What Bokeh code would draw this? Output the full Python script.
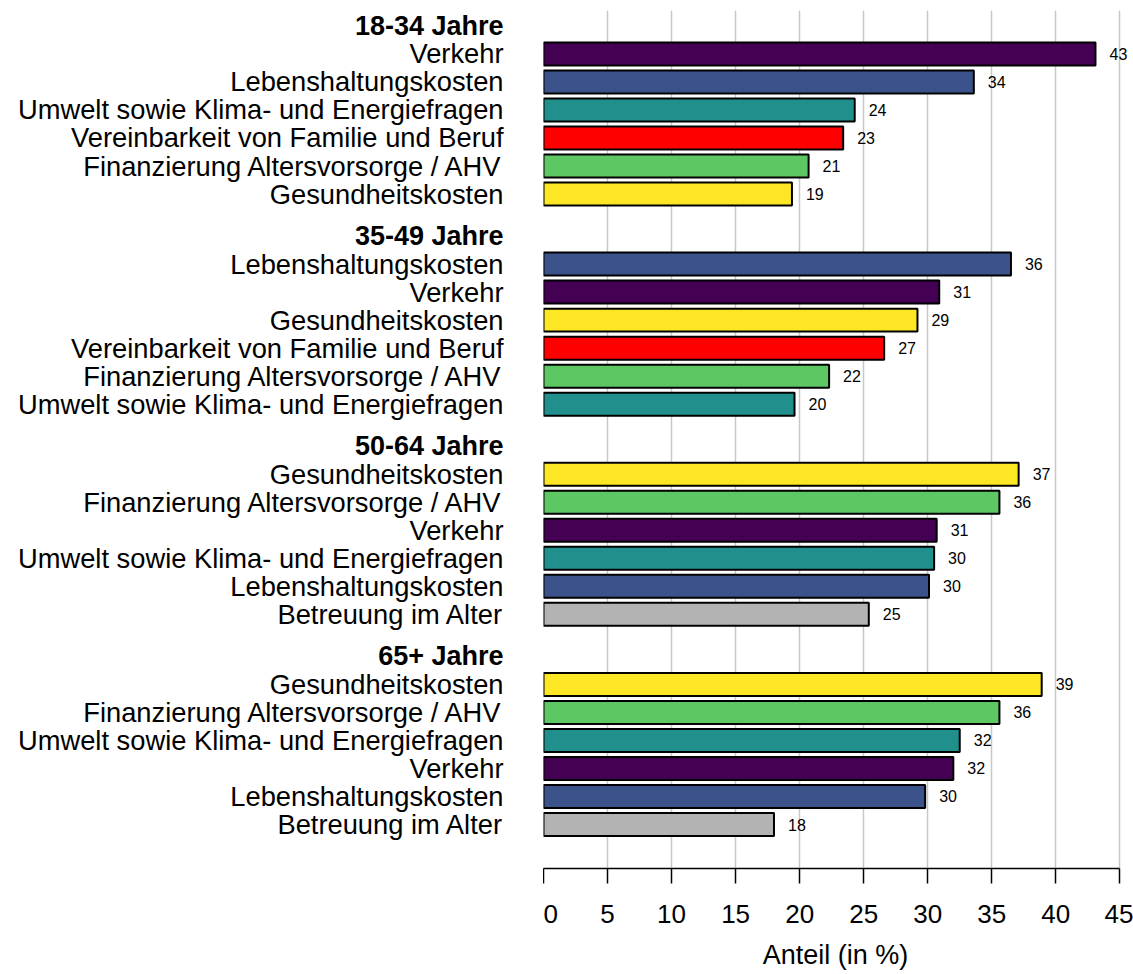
from bokeh.plotting import figure
from bokeh.layouts import row
from bokeh.models import ColumnDataSource, Range1d, FixedTicker
from bokeh.core.properties import value
from bokeh.embed import file_html
from bokeh.resources import INLINE

# ---------------- data ----------------
groups = ["18-34 Jahre", "35-49 Jahre", "50-64 Jahre", "65+ Jahre"]

cats_18_34 = ["Verkehr", "Lebenshaltungskosten", "Umwelt sowie Klima- und Energiefragen",
              "Vereinbarkeit von Familie und Beruf", "Finanzierung Altersvorsorge / AHV",
              "Gesundheitskosten"]
vals_18_34 = [43.1, 33.6, 24.3, 23.4, 20.7, 19.4]
labs_18_34 = ["43", "34", "24", "23", "21", "19"]

cats_35_49 = ["Lebenshaltungskosten", "Verkehr", "Gesundheitskosten",
              "Vereinbarkeit von Familie und Beruf", "Finanzierung Altersvorsorge / AHV",
              "Umwelt sowie Klima- und Energiefragen"]
vals_35_49 = [36.5, 30.9, 29.2, 26.6, 22.3, 19.6]
labs_35_49 = ["36", "31", "29", "27", "22", "20"]

cats_50_64 = ["Gesundheitskosten", "Finanzierung Altersvorsorge / AHV", "Verkehr",
              "Umwelt sowie Klima- und Energiefragen", "Lebenshaltungskosten",
              "Betreuung im Alter"]
vals_50_64 = [37.1, 35.6, 30.7, 30.5, 30.1, 25.4]
labs_50_64 = ["37", "36", "31", "30", "30", "25"]

cats_65 = ["Gesundheitskosten", "Finanzierung Altersvorsorge / AHV",
           "Umwelt sowie Klima- und Energiefragen", "Verkehr", "Lebenshaltungskosten",
           "Betreuung im Alter"]
vals_65 = [38.9, 35.6, 32.5, 32.0, 29.8, 18.0]
labs_65 = ["39", "36", "32", "32", "30", "18"]

topic_colors = {
    "Verkehr": "#440154",
    "Lebenshaltungskosten": "#3B528B",
    "Umwelt sowie Klima- und Energiefragen": "#21908C",
    "Vereinbarkeit von Familie und Beruf": "#FF0000",
    "Finanzierung Altersvorsorge / AHV": "#5DC863",
    "Gesundheitskosten": "#FDE725",
    "Betreuung im Alter": "#B3B3B3",
}

x_ticks = [0, 5, 10, 15, 20, 25, 30, 35, 40, 45]
x_title = "Anteil (in %)"

# ---------------- build sources ----------------
all_cats = [cats_18_34, cats_35_49, cats_50_64, cats_65]
all_vals = [vals_18_34, vals_35_49, vals_50_64, vals_65]
all_labs = [labs_18_34, labs_35_49, labs_50_64, labs_65]

GROUP_STEP = 7.5
bar_y, bar_v, bar_c, bar_lab, bar_cat = [], [], [], [], []
head_y = []
for g, (cats, vals, labs) in enumerate(zip(all_cats, all_vals, all_labs)):
    base = g * GROUP_STEP
    head_y.append(base)
    for i, (c, v, l) in enumerate(zip(cats, vals, labs)):
        bar_y.append(base + 1 + i)
        bar_v.append(v)
        bar_c.append(topic_colors[c])
        bar_lab.append(l)
        bar_cat.append(c)

bars = ColumnDataSource(dict(y=bar_y, v=bar_v, color=bar_c, lab=bar_lab, cat=bar_cat))
heads = ColumnDataSource(dict(y=head_y, text=groups))

FONT = value("Liberation Sans")
H = 974
TOP = 10
BOTTOM = 106
yr = Range1d(30.07, -0.55)

# ---------------- left label panel ----------------
LW = 543
left = figure(width=LW, height=H, x_range=Range1d(0, LW), y_range=yr,
              output_backend="svg", toolbar_location=None,
              x_axis_location=None, y_axis_location=None,
              min_border_left=0, min_border_right=0,
              min_border_top=TOP, min_border_bottom=BOTTOM)
left.grid.visible = False
left.outline_line_color = None
left.text(x=503, y="y", text="cat", source=bars, text_align="right",
          text_baseline="middle", text_font=FONT, text_font_size="27.3px",
          text_color="black")
left.text(x=503, y="y", text="text", source=heads, text_align="right",
          text_baseline="middle", text_font=FONT, text_font_size="27px",
          text_font_style="bold", text_color="black")

# ---------------- bar panel ----------------
XMAX = 45.6
FRAME_W = 584
p = figure(width=FRAME_W + 6, height=H, x_range=Range1d(0, XMAX), y_range=yr,
           output_backend="svg", toolbar_location=None,
           y_axis_location=None,
           min_border_left=0, min_border_right=6,
           min_border_top=TOP, min_border_bottom=BOTTOM)
p.outline_line_color = None
p.ygrid.visible = False
p.xgrid.ticker = FixedTicker(ticks=x_ticks)
p.xgrid.grid_line_color = "#C8C8C8"
p.xgrid.grid_line_width = 1.5

p.hbar(y="y", left=0, right="v", height=0.82, source=bars,
       fill_color="color", line_color="black", line_width=2)
p.text(x="v", y="y", text="lab", source=bars, x_offset=14,
       text_baseline="middle", text_align="left", text_font=FONT,
       text_font_size="16px", text_color="black")

ax = p.xaxis[0]
ax.ticker = FixedTicker(ticks=x_ticks)
ax.bounds = (0, 45)
ax.axis_label = x_title
ax.axis_label_text_font = "Liberation Sans"
ax.axis_label_text_font_style = "normal"
ax.axis_label_text_font_size = "27px"
ax.axis_label_text_color = "black"
ax.axis_label_standoff = 14
ax.major_label_text_font = "Liberation Sans"
ax.major_label_text_font_size = "26px"
ax.major_label_text_color = "black"
ax.major_label_standoff = 21
ax.major_tick_out = 15
ax.major_tick_in = 0
ax.minor_tick_out = 0
ax.minor_tick_in = 0
ax.axis_line_width = 1.5
ax.axis_line_color = "black"
ax.major_tick_line_width = 1.5
ax.major_tick_line_color = "black"

layout = row(left, p)
open("out.html", "w").write(file_html(layout, INLINE))
